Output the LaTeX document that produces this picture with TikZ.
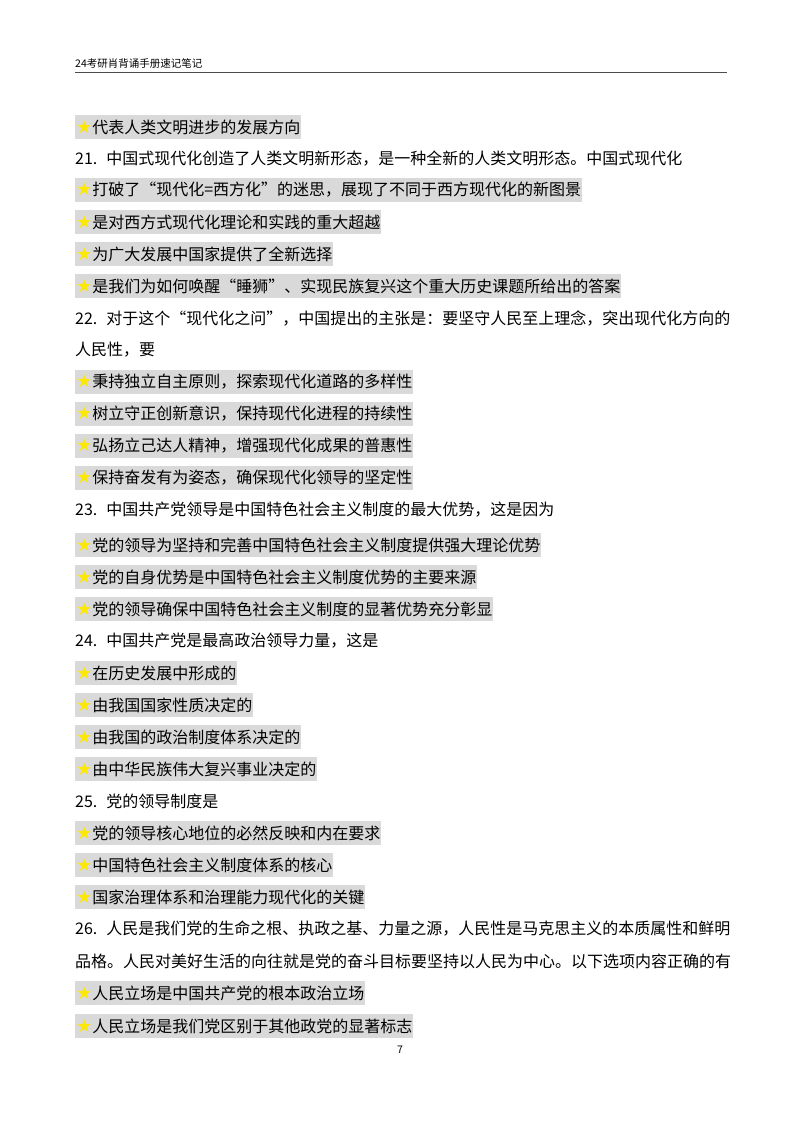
\documentclass[tikz,border=0pt]{standalone}
\usepackage{fontspec}
\setmainfont{Noto Sans CJK SC}
\newfontfamily\symf{DejaVu Sans}
\newcommand\stb{{\symf\fontsize{18}{18}\selectfont\color{yellow!90!orange}★}}
\newcommand\nsp{\hspace{9pt}}
\begin{document}
\begin{tikzpicture}[x=1pt,y=-1pt,
  hl/.style={anchor=west,fill=black!15,inner xsep=1pt,inner ysep=0pt,minimum height=24pt,font=\fontsize{16}{16}\selectfont},
  tx/.style={anchor=west,inner sep=0pt,font=\fontsize{16}{16}\selectfont}]
\useasboundingbox[fill=white] (0,0) rectangle (800,1132);
\node[tx,font=\fontsize{10.5}{11}\selectfont] (hd) at (75,64) {24考研肖背诵手册速记笔记};
\draw[black!70,line width=0.8pt] (75,72) -- (727,72);
\node[hl] (a0) at (75,127) {\stb{}代表人类文明进步的发展方向};
\node[tx] (n21) at (75,159) {21.\nsp{}中国式现代化创造了人类文明新形态，是一种全新的人类文明形态。中国式现代化};
\node[hl] (a1) at (75,190) {\stb{}打破了“现代化=西方化”的迷思，展现了不同于西方现代化的新图景};
\node[hl] (a2) at (75,222) {\stb{}是对西方式现代化理论和实践的重大超越};
\node[hl] (a3) at (75,254) {\stb{}为广大发展中国家提供了全新选择};
\node[hl] (a4) at (75,286) {\stb{}是我们为如何唤醒“睡狮”、实现民族复兴这个重大历史课题所给出的答案};
\node[tx] (n22) at (75,318) {22.\nsp{}对于这个“现代化之问”，中国提出的主张是：要坚守人民至上理念，突出现代化方向的};
\node[tx] (n22b) at (75,350) {人民性，要};
\node[hl] (b1) at (75,382) {\stb{}秉持独立自主原则，探索现代化道路的多样性};
\node[hl] (b2) at (75,414) {\stb{}树立守正创新意识，保持现代化进程的持续性};
\node[hl] (b3) at (75,446) {\stb{}弘扬立己达人精神，增强现代化成果的普惠性};
\node[hl] (b4) at (75,478) {\stb{}保持奋发有为姿态，确保现代化领导的坚定性};
\node[tx] (n23) at (75,510) {23.\nsp{}中国共产党领导是中国特色社会主义制度的最大优势，这是因为};
\node[hl] (c1) at (75,545) {\stb{}党的领导为坚持和完善中国特色社会主义制度提供强大理论优势};
\node[hl] (c2) at (75,577) {\stb{}党的自身优势是中国特色社会主义制度优势的主要来源};
\node[hl] (c3) at (75,609) {\stb{}党的领导确保中国特色社会主义制度的显著优势充分彰显};
\node[tx] (n24) at (75,641) {24.\nsp{}中国共产党是最高政治领导力量，这是};
\node[hl] (d1) at (75,673) {\stb{}在历史发展中形成的};
\node[hl] (d2) at (75,705) {\stb{}由我国国家性质决定的};
\node[hl] (d3) at (75,737) {\stb{}由我国的政治制度体系决定的};
\node[hl] (d4) at (75,769) {\stb{}由中华民族伟大复兴事业决定的};
\node[tx] (n25) at (75,801) {25.\nsp{}党的领导制度是};
\node[hl] (e1) at (75,833) {\stb{}党的领导核心地位的必然反映和内在要求};
\node[hl] (e2) at (75,865) {\stb{}中国特色社会主义制度体系的核心};
\node[hl] (e3) at (75,897) {\stb{}国家治理体系和治理能力现代化的关键};
\node[tx] (n26) at (75,929) {26.\nsp{}人民是我们党的生命之根、执政之基、力量之源，人民性是马克思主义的本质属性和鲜明};
\node[tx] (n26b) at (75,961) {品格。人民对美好生活的向往就是党的奋斗目标要坚持以人民为中心。以下选项内容正确的有};
\node[hl] (f1) at (75,993) {\stb{}人民立场是中国共产党的根本政治立场};
\node[hl] (f2) at (75,1026) {\stb{}人民立场是我们党区别于其他政党的显著标志};
\node[font=\fontsize{10.5}{11}\selectfont] (pg) at (400,1050) {7};
\end{tikzpicture}
\end{document}
